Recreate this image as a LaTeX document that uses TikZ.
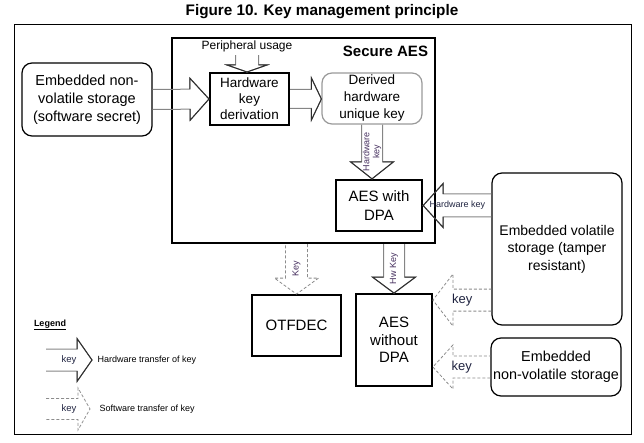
\documentclass[tikz,border=0pt]{standalone}
\usepackage{fontspec}
\setmainfont{Liberation Sans}
\usetikzlibrary{calc,positioning}
\definecolor{AGray}{HTML}{858585}
\definecolor{HGray}{HTML}{2E2E2E}
\definecolor{DGray}{HTML}{8C8C8C}
\definecolor{BGray}{HTML}{9A9A9A}
\definecolor{KPurple}{HTML}{46305F}
\definecolor{KNavy}{HTML}{1F2340}
\newcommand{\fsz}[2]{\fontsize{#1}{#2}\selectfont}
\tikzset{
    block/.style = {draw, rectangle, line width=2pt, align=center, inner sep=1pt},
    store/.style = {draw, rectangle, rounded corners=10pt, line width=1.2pt, align=center, inner sep=1pt},
    hwkey/.style = {draw=AGray, line width=1pt},
    hwhead/.style = {draw=HGray, line width=1pt},
    swkey/.style = {draw=DGray, line width=0.8pt, dash pattern=on 3pt off 2pt},
    keylabel/.style = {text=KPurple, font=\fsz{9}{10}, inner sep=0pt, align=center},
    % hollow arrow: shaft half width / head half width / head length
    hollow/.style n args={3}{to path={
        let \p1=(\tikztostart), \p2=(\tikztotarget),
            \n1={veclen(\x2-\x1,\y2-\y1)},
            \p3=({(\x2-\x1)/\n1*1pt},{(\y2-\y1)/\n1*1pt}) in
        ({\x1-(\y3)*(#1)},{\y1+(\x3)*(#1)})
        -- ({\x2-(\x3)*(#3)-(\y3)*(#1)},{\y2-(\y3)*(#3)+(\x3)*(#1)})
        -- ({\x2-(\x3)*(#3)-(\y3)*(#2)},{\y2-(\y3)*(#3)+(\x3)*(#2)})
        -- (\p2)
        -- ({\x2-(\x3)*(#3)+(\y3)*(#2)},{\y2-(\y3)*(#3)-(\x3)*(#2)})
        -- ({\x2-(\x3)*(#3)+(\y3)*(#1)},{\y2-(\y3)*(#3)-(\x3)*(#1)})
        -- ({\x1+(\y3)*(#1)},{\y1-(\x3)*(#1)})}},
    % only the head part of it
    hollowhead/.style n args={3}{to path={
        let \p1=(\tikztostart), \p2=(\tikztotarget),
            \n1={veclen(\x2-\x1,\y2-\y1)},
            \p3=({(\x2-\x1)/\n1*1pt},{(\y2-\y1)/\n1*1pt}) in
        ({\x2-(\x3)*(#3)-(\y3)*(#1)},{\y2-(\y3)*(#3)+(\x3)*(#1)})
        -- ({\x2-(\x3)*(#3)-(\y3)*(#2)},{\y2-(\y3)*(#3)+(\x3)*(#2)})
        -- (\p2)
        -- ({\x2-(\x3)*(#3)+(\y3)*(#2)},{\y2-(\y3)*(#3)-(\x3)*(#2)})
        -- ({\x2-(\x3)*(#3)+(\y3)*(#1)},{\y2-(\y3)*(#3)-(\x3)*(#1)})}}
}
% hardware transfer: gray shaft, dark head
\newcommand{\hwarrow}[5]{%
    \draw[hwkey, hollow={#1}{#2}{#3}] (#4) to (#5);
    \draw[hwhead, hollowhead={#1}{#2}{#3}] (#4) to (#5);
}

\begin{document}
\begin{tikzpicture}[x=1pt, y=-1pt]
    \useasboundingbox (0,0) rectangle (644,443);
    \node[font=\fsz{15.3}{18}\bfseries] (title) at (322,12) {Figure 10. Key management principle};
    \draw[line width=0.8pt] (14,24) rectangle (631,434);

    % secure part
    \node[block, line width=2.3pt, minimum width=263pt, minimum height=205pt] (secure) at (303.5,140.5) {};
    \node[font=\fsz{15}{18}\bfseries] (securelabel) at (385.5,51) {Secure AES};
    \node[block, minimum width=79pt, minimum height=52pt, font=\fsz{13.5}{16}] (hkd) at (249.5,99) {Hardware\\key\\derivation};
    \node[font=\fsz{12}{14}] (periph) at (247,46) {Peripheral usage};
    \node[store, draw=BGray, minimum width=100pt, minimum height=51pt, font=\fsz{13.5}{17}] (derived) at (372,98.5) {Derived\\hardware\\unique key};
    \node[block, line width=2.3pt, minimum width=86pt, minimum height=51pt, font=\fsz{15}{19}] (dpa) at (379,205.5) {AES with\\DPA};

    % storages
    \node[store, minimum width=130pt, minimum height=73pt, font=\fsz{14.5}{18}] (envm) at (87,99.5) {Embedded non-\\volatile storage\\(software secret)};
    \node[store, minimum width=130pt, minimum height=152pt, font=\fsz{14}{17.5}] (vol) at (557,249) {Embedded volatile\\storage (tamper\\resistant)};
    \node[store, minimum width=130pt, minimum height=58pt, font=\fsz{14.4}{18}] (envm2) at (556,367) {Embedded\\non-volatile storage};

    % users
    \node[block, line width=1.8pt, minimum width=89pt, minimum height=61pt, font=\fsz{15}{18}] (otfdec) at (296.5,325.5) {OTFDEC};
    \node[block, line width=1.8pt, minimum width=76pt, minimum height=92pt, font=\fsz{15}{17.5}] (nodpa) at (394,340) {AES\\without\\DPA};

    % hardware key transfers
    \hwarrow{10}{21}{19}{envm.east}{hkd.west}
    \hwarrow{11.5}{20}{7}{periph.south}{periph.south |- hkd.north}
    \hwarrow{9.5}{21}{10}{hkd.east}{hkd.east -| derived.west}
    \hwarrow{10.5}{21.5}{17}{derived.south}{derived.south |- dpa.north}
    \node[keylabel, rotate=90] (hwlabel1) at ($(derived.south)!.5!(derived.south |- dpa.north)$) {Hardware\\key};
    \hwarrow{11.5}{22}{20}{vol.west |- dpa.east}{dpa.east}
    \node[keylabel, text=KNavy] (hwlabel2) at ($(vol.west |- dpa.east)!.5!(dpa.east)$) {Hardware key};
    \hwarrow{10.5}{21.5}{16}{secure.south -| nodpa.north}{nodpa.north}
    \node[keylabel, rotate=90] (hwlabel3) at ($(secure.south -| nodpa.north)!.5!(nodpa.north)$) {Hw Key};

    % software key transfers
    \draw[swkey, hollow={11}{22}{16}] (secure.south -| otfdec.north) to (otfdec.north);
    \node[keylabel, rotate=90] (swlabel1) at ($(secure.south -| otfdec.north)!.5!(otfdec.north)$) {Key};
    \coordinate (volkey) at ($(nodpa.north east)+(0,7)$);
    \draw[swkey, hollow={11}{26}{20}] (vol.west |- volkey) to (volkey);
    \node[keylabel, text=KNavy, font=\fsz{13}{15}] (swlabel2) at ($(vol.west |- volkey)!.5!(volkey)$) {key};
    \draw[swkey, hollow={11}{22}{20}] (envm2.west) to (envm2.west -| nodpa.east);
    \node[keylabel, text=KNavy, font=\fsz{13}{15}] (swlabel3) at ($(envm2.west)!.5!(envm2.west -| nodpa.east)$) {key};

    % legend
    \node[font=\fsz{9}{10}\bfseries] (legend) at (50,325) {\underline{Legend}};
    \coordinate (lhw1) at (46,360);
    \coordinate (lhw2) at (92,360);
    \coordinate (lsw1) at (46,409);
    \coordinate (lsw2) at (90,409);
    \hwarrow{11}{21.5}{15}{lhw1}{lhw2}
    \draw[swkey, hollow={10.5}{21}{12}] (lsw1) to (lsw2);
    \node[font=\fsz{9.5}{11}, text=KNavy] (lhwkey) at (69,360) {key};
    \node[font=\fsz{9.5}{11}, text=KNavy] (lswkey) at (69,409) {key};
    \node[font=\fsz{9}{11}, anchor=west, right=2pt of lhw2] (lhwtext) {Hardware transfer of key};
    \node[font=\fsz{9}{11}, anchor=west, right=6pt of lsw2] (lswtext) {Software transfer of key};
\end{tikzpicture}
\end{document}
